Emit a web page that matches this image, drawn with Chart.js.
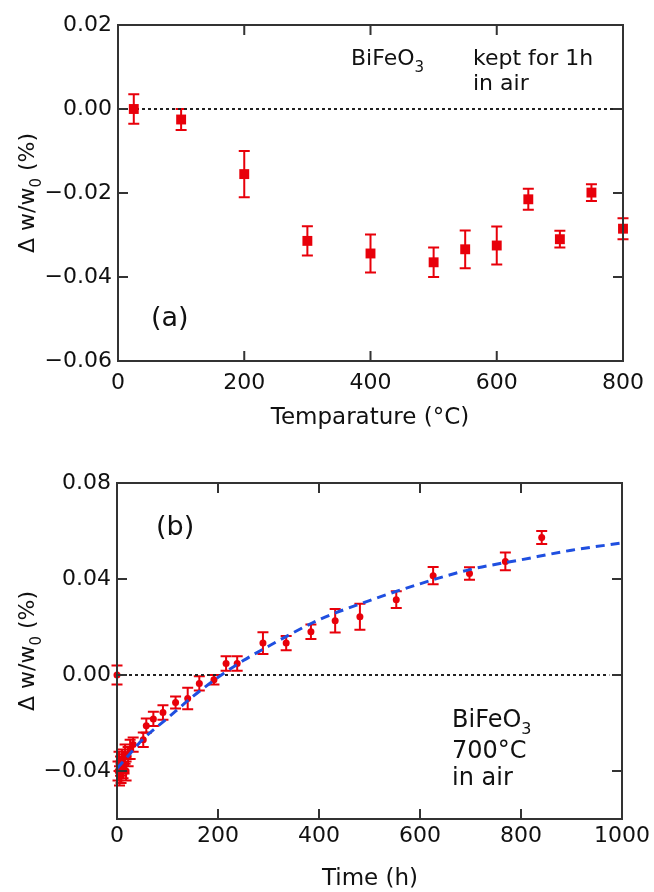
<!DOCTYPE html>
<html>
<head>
<meta charset="utf-8">
<script src="https://cdn.jsdelivr.net/npm/chart.js@4.4.1/dist/chart.umd.min.js"></script>
<style>
body { margin: 0; background: #fff; }
canvas { display: block; }
</style>
</head>
<body>
<canvas id="chartA" width="654" height="446"></canvas>
<canvas id="chartB" width="654" height="446"></canvas>
<script>
// (a) kept for 1h at each temperature
const tempC = [25, 100, 200, 300, 400, 500, 550, 600, 650, 700, 750, 800]
const dwA = [0.0, -0.0025, -0.0155, -0.0314, -0.0344, -0.0365, -0.0334, -0.0325, -0.0215, -0.031, -0.0199, -0.0285]
const errA = [0.0035, 0.0025, 0.0055, 0.0035, 0.0045, 0.0035, 0.0045, 0.0045, 0.0025, 0.002, 0.002, 0.0025]

// (b) 700 C in air, vs time
const timeH = [0, 2, 4, 5, 7, 8, 10, 12, 14, 16, 18, 22, 26, 32, 52, 58, 72, 91, 116, 140, 163, 192, 216, 238, 289, 335, 384, 432, 481, 553, 626, 698, 769, 841]
const dwB = [0.0, -0.040, -0.036, -0.042, -0.038, -0.041, -0.035, -0.039, -0.037, -0.033, -0.040, -0.034, -0.031, -0.029, -0.027, -0.0211, -0.0183, -0.0156, -0.0115, -0.0098, -0.0035, -0.002, 0.0048, 0.0048, 0.0133, 0.0133, 0.018, 0.0226, 0.0243, 0.0314, 0.0414, 0.0423, 0.0473, 0.0573]
const errB = [0.004, 0.004, 0.004, 0.004, 0.004, 0.004, 0.004, 0.004, 0.004, 0.004, 0.004, 0.004, 0.004, 0.003, 0.003, 0.003, 0.003, 0.003, 0.0025, 0.0045, 0.003, 0.002, 0.003, 0.003, 0.0045, 0.003, 0.003, 0.0049, 0.0054, 0.0035, 0.0036, 0.0026, 0.0037, 0.0027]

// dashed fit curve
const fitT = [0, 25, 50, 100, 150, 200, 250, 300, 400, 500, 600, 700, 800, 900, 1000]
const fitW = [-0.039, -0.033, -0.027, -0.018, -0.009, -0.001, 0.006, 0.012, 0.023, 0.031, 0.038, 0.044, 0.048, 0.052, 0.055]

// dotted zero lines
const zeroA = [0, 790]
const zeroB = [0, 975]

const ticksXA = [0, 200, 400, 600, 800]
const ticksYA = [-0.06, -0.04, -0.02, 0, 0.02]
const ticksXB = [0, 200, 400, 600, 800, 1000]
const ticksYB = [-0.04, 0, 0.04, 0.08]

const FONT = "'DejaVu Sans', sans-serif"
const RED = '#e8000a'
const INK = '#111'

function fmt(v) {
    if (Math.abs(v) < 1e-9) return '0.00'
    return (v < 0 ? '\u2212' : '') + Math.abs(v).toFixed(2)
}

const pts = (xs, ys) => xs.map((x, i) => ({ x: x, y: ys[i] }))

const errorBars = {
    id: 'errorBars',
    beforeDatasetsDraw(chart) {
        const { ctx, scales: { x, y } } = chart
        chart.data.datasets.forEach(ds => {
            if (!ds.errors) return
            ctx.save()
            ctx.strokeStyle = ds.errorColor
            ctx.lineWidth = 2
            const cap = 5.5
            ds.data.forEach((p, i) => {
                const px = x.getPixelForValue(p.x)
                const hi = y.getPixelForValue(p.y + ds.errors[i])
                const lo = y.getPixelForValue(p.y - ds.errors[i])
                ctx.beginPath()
                ctx.moveTo(px, hi); ctx.lineTo(px, lo)
                ctx.moveTo(px - cap, hi); ctx.lineTo(px + cap, hi)
                ctx.moveTo(px - cap, lo); ctx.lineTo(px + cap, lo)
                ctx.stroke()
            })
            ctx.restore()
        })
    }
}

function drawRich(ctx, x, y, segs, size, align) {
    let w = 0
    segs.forEach(s => {
        ctx.font = (s.sub ? Math.round(size * 0.68) : size) + 'px ' + FONT
        w += ctx.measureText(s.t).width
    })
    let cx = align === 'center' ? x - w / 2 : x
    segs.forEach(s => {
        const fs = s.sub ? Math.round(size * 0.68) : size
        ctx.font = fs + 'px ' + FONT
        ctx.fillText(s.t, cx, s.sub ? y + size * 0.3 : y)
        cx += ctx.measureText(s.t).width
    })
}

const frame = {
    id: 'frame',
    afterDraw(chart, args, opts) {
        const { ctx, chartArea: a, scales: { x, y } } = chart
        ctx.save()
        ctx.strokeStyle = '#333'
        ctx.lineWidth = 2
        ctx.strokeRect(a.left, a.top, a.right - a.left, a.bottom - a.top)
        ctx.beginPath()
        x.ticks.forEach(t => {
            const px = x.getPixelForValue(t.value)
            ctx.moveTo(px, a.bottom); ctx.lineTo(px, a.bottom - 10)
            ctx.moveTo(px, a.top); ctx.lineTo(px, a.top + 10)
        })
        y.ticks.forEach(t => {
            const py = y.getPixelForValue(t.value)
            ctx.moveTo(a.left, py); ctx.lineTo(a.left + 10, py)
            ctx.moveTo(a.right, py); ctx.lineTo(a.right - 10, py)
        })
        ctx.stroke()

        ctx.fillStyle = INK
        ctx.textBaseline = 'alphabetic'
        ctx.textAlign = 'left'
        opts.notes.forEach(n => {
            if (n.rot) {
                ctx.save()
                ctx.translate(n.x, n.y)
                ctx.rotate(-Math.PI / 2)
                drawRich(ctx, 0, 0, n.segs, n.size, 'center')
                ctx.restore()
            } else {
                drawRich(ctx, n.x, n.y, n.segs, n.size, n.align)
            }
        })
        ctx.restore()
    }
}

const yTitle = [{ t: '\u0394 w/w' }, { t: '0', sub: true }, { t: ' (%)' }]

function axes(xt, yt, xmin, xmax, ymin, ymax, yw, xh, xpad) {
    const tickFont = { family: FONT, size: 22 }
    return {
        x: {
            type: 'linear', min: xmin, max: xmax,
            grid: { display: false, drawTicks: false },
            border: { display: false },
            ticks: { font: tickFont, color: INK, padding: xpad, autoSkip: false, maxRotation: 0, callback: v => String(v) },
            afterBuildTicks: s => { s.ticks = xt.map(v => ({ value: v })) },
            afterFit: s => { s.height = xh }
        },
        y: {
            type: 'linear', min: ymin, max: ymax,
            grid: { display: false, drawTicks: false },
            border: { display: false },
            ticks: { font: tickFont, color: INK, padding: 6, autoSkip: false, callback: v => fmt(v) },
            afterBuildTicks: s => { s.ticks = yt.map(v => ({ value: v })) },
            afterFit: s => { s.width = yw }
        }
    }
}

new Chart(document.getElementById('chartA'), {
    type: 'scatter',
    data: {
        datasets: [
            {
                data: pts(tempC, dwA), errors: errA, errorColor: RED,
                pointStyle: 'rect', pointRadius: 7, backgroundColor: RED, borderWidth: 0,
                clip: false, order: 1
            },
            {
                data: pts(zeroA, [0, 0]), showLine: true, pointRadius: 0,
                borderColor: '#222', borderWidth: 2, borderDash: [3, 3], order: 2
            }
        ]
    },
    options: {
        responsive: false, animation: false,
        layout: { padding: { top: 25, right: 31, left: 0, bottom: 0 } },
        scales: axes(ticksXA, ticksYA, 0, 800, -0.06, 0.02, 118, 85, 9),
        plugins: {
            legend: { display: false }, tooltip: { enabled: false },
            frame: {
                notes: [
                    { x: 351, y: 65, size: 22, segs: [{ t: 'BiFeO' }, { t: '3', sub: true }] },
                    { x: 473, y: 65, size: 22, segs: [{ t: 'kept for 1h' }] },
                    { x: 473, y: 90, size: 22, segs: [{ t: 'in air' }] },
                    { x: 151, y: 326, size: 27, segs: [{ t: '(a)' }] },
                    { x: 370, y: 424, size: 23, align: 'center', segs: [{ t: 'Temparature (\u00b0C)' }] },
                    { x: 34, y: 193, size: 22, rot: true, segs: yTitle }
                ]
            }
        }
    },
    plugins: [errorBars, frame]
})

new Chart(document.getElementById('chartB'), {
    type: 'scatter',
    data: {
        datasets: [
            {
                data: pts(fitT, fitW), showLine: true, pointRadius: 0, cubicInterpolationMode: 'monotone',
                borderColor: '#1f4fe0', borderWidth: 3, borderDash: [9, 6], order: 0
            },
            {
                data: pts(timeH, dwB), errors: errB, errorColor: RED,
                pointStyle: 'circle', pointRadius: 3.5, backgroundColor: RED, borderWidth: 0,
                clip: false, order: 1
            },
            {
                data: pts(zeroB, [0, 0]), showLine: true, pointRadius: 0,
                borderColor: '#222', borderWidth: 2, borderDash: [3, 3], order: 2
            }
        ]
    },
    options: {
        responsive: false, animation: false,
        layout: { padding: { top: 37, right: 31, left: 0, bottom: 0 } },
        scales: axes(ticksXB, ticksYB, 0, 1000, -0.06, 0.08, 117, 73, 4),
        plugins: {
            legend: { display: false }, tooltip: { enabled: false },
            frame: {
                notes: [
                    { x: 156, y: 89, size: 27, segs: [{ t: '(b)' }] },
                    { x: 452, y: 281, size: 24, segs: [{ t: 'BiFeO' }, { t: '3', sub: true }] },
                    { x: 452, y: 312, size: 24, segs: [{ t: '700\u00b0C' }] },
                    { x: 452, y: 339, size: 24, segs: [{ t: 'in air' }] },
                    { x: 370, y: 439, size: 23, align: 'center', segs: [{ t: 'Time (h)' }] },
                    { x: 34, y: 205, size: 22, rot: true, segs: yTitle }
                ]
            }
        }
    },
    plugins: [errorBars, frame]
})
</script>
</body>
</html>
